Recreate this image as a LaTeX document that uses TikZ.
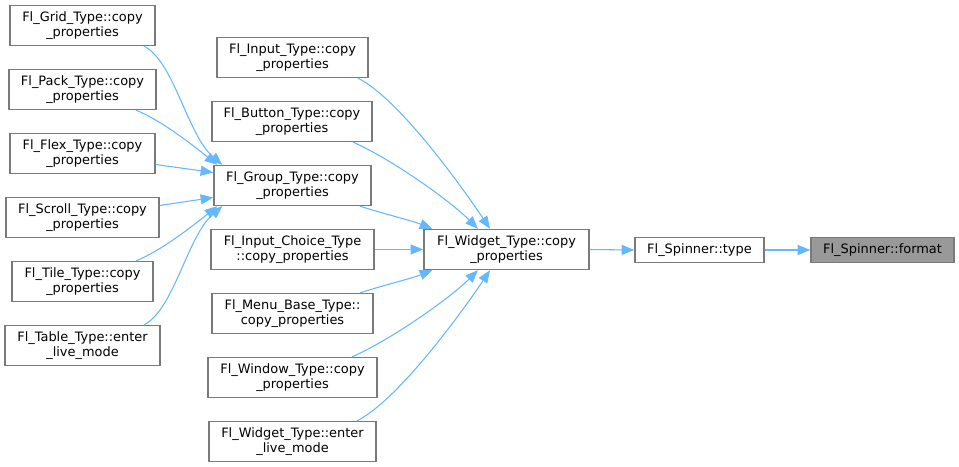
\documentclass[tikz,border=0pt]{standalone}
\usepackage{fontspec}
\setmainfont{DejaVu Sans}
\usetikzlibrary{arrows.meta,calc}
\definecolor{edgeblue}{HTML}{63B8FF}
\definecolor{boxborder}{HTML}{7A7A7A}
\definecolor{boxfill}{HTML}{999999}
\tikzset{
  box/.style={draw=boxborder, line width=1pt, fill=white, inner sep=0pt, align=center,
    font=\fontsize{9.7pt}{11.25pt}\selectfont},
  focus/.style={box, fill=boxfill},
  edge/.style={draw=edgeblue, line width=0.8pt, -{Triangle[length=9.5pt,width=7.5pt]}}
}
% \bx[style]{name}{x1}{y1}{x2}{y2}{text}
\newcommand{\bx}[7][box]{%
  \node[#1, minimum width={(#5-#3)*0.75pt}, minimum height={(#6-#4)*0.75pt}]
    (#2) at ({(#3+#5)/2},{(#4+#6)/2+0.5}) {#7};}
\begin{document}
\begin{tikzpicture}[x=0.75pt,y=-0.75pt]
\useasboundingbox (0,0) rectangle (959,467);
% column 1
\bx{grid}{10}{5}{155}{45}{Fl\_Grid\_Type::copy\\\_properties}
\bx{pack}{9}{69}{156}{109}{Fl\_Pack\_Type::copy\\\_properties}
\bx{flex}{10}{133}{155}{173}{Fl\_Flex\_Type::copy\\\_properties}
\bx{scroll}{6}{197}{159}{237}{Fl\_Scroll\_Type::copy\\\_properties}
\bx{tile}{12}{261}{153}{301}{Fl\_Tile\_Type::copy\\\_properties}
\bx{table}{5}{325}{160}{365}{Fl\_Table\_Type::enter\\\_live\_mode}
% column 2
\bx{input}{217}{37}{368}{77}{Fl\_Input\_Type::copy\\\_properties}
\bx{button}{212}{101}{372}{141}{Fl\_Button\_Type::copy\\\_properties}
\bx{group}{214}{165}{371}{205}{Fl\_Group\_Type::copy\\\_properties}
\bx{choice}{211}{229}{374}{269}{Fl\_Input\_Choice\_Type\\::copy\_properties}
\bx{menu}{212}{293}{373}{333}{Fl\_Menu\_Base\_Type::\\copy\_properties}
\bx{window}{208}{357}{377}{397}{Fl\_Window\_Type::copy\\\_properties}
\bx{wenter}{209}{421}{376}{461}{Fl\_Widget\_Type::enter\\\_live\_mode}
% column 3-5
\bx{widget}{424}{229}{589}{269}{Fl\_Widget\_Type::copy\\\_properties}
\bx{stype}{635}{237}{764}{262}{Fl\_Spinner::type}
\bx[focus]{format}{811}{237}{954}{262}{Fl\_Spinner::format}
% edges into group
\draw[edge] ($(grid.south)+(61.5,0)$) .. controls +(30,15) and +(-35,-30) .. ($(group.north west)+(9,0)$);
\draw[edge] ($(pack.south)+(53.5,0)$) .. controls +(25,10) and +(-25,-20) .. ($(group.north west)+(4,0)$);
\draw[edge] ($(flex.east)+(0,11)$) -- ($(group.west)+(0,-13)$);
\draw[edge] ($(scroll.east)+(0,-12)$) -- ($(group.west)+(0,12)$);
\draw[edge] ($(tile.north)+(53.5,0)$) .. controls +(25,-10) and +(-25,20) .. ($(group.south west)+(4,0)$);
\draw[edge] ($(table.north)+(61.5,0)$) .. controls +(30,-15) and +(-35,30) .. ($(group.south west)+(9,0)$);
% edges into widget
\draw[edge] ($(input.south)+(65.5,0)$) .. controls +(40,20) and +(-30,-45) .. ($(widget.north)+(-16.5,0)$);
\draw[edge] ($(button.south)+(61,0)$) .. controls +(35,15) and +(-30,-30) .. ($(widget.north)+(-28.5,0)$);
\draw[edge] ($(group.south)+(67.5,0)$) .. controls +(25,8) and +(-20,-8) .. ($(widget.north west)+(9,0)$);
\draw[edge] (choice.east) -- (widget.west);
\draw[edge] ($(menu.north)+(67.5,0)$) .. controls +(25,-8) and +(-20,8) .. ($(widget.south west)+(9,0)$);
\draw[edge] ($(window.north)+(59.5,0)$) .. controls +(35,-15) and +(-30,30) .. ($(widget.south)+(-28.5,0)$);
\draw[edge] ($(wenter.north)+(64.5,0)$) .. controls +(40,-20) and +(-30,45) .. ($(widget.south)+(-16.5,0)$);
% right chain
\draw[edge] (widget.east) -- (stype.west);
\draw[edge] (stype.east) -- (format.west);
\end{tikzpicture}
\end{document}
